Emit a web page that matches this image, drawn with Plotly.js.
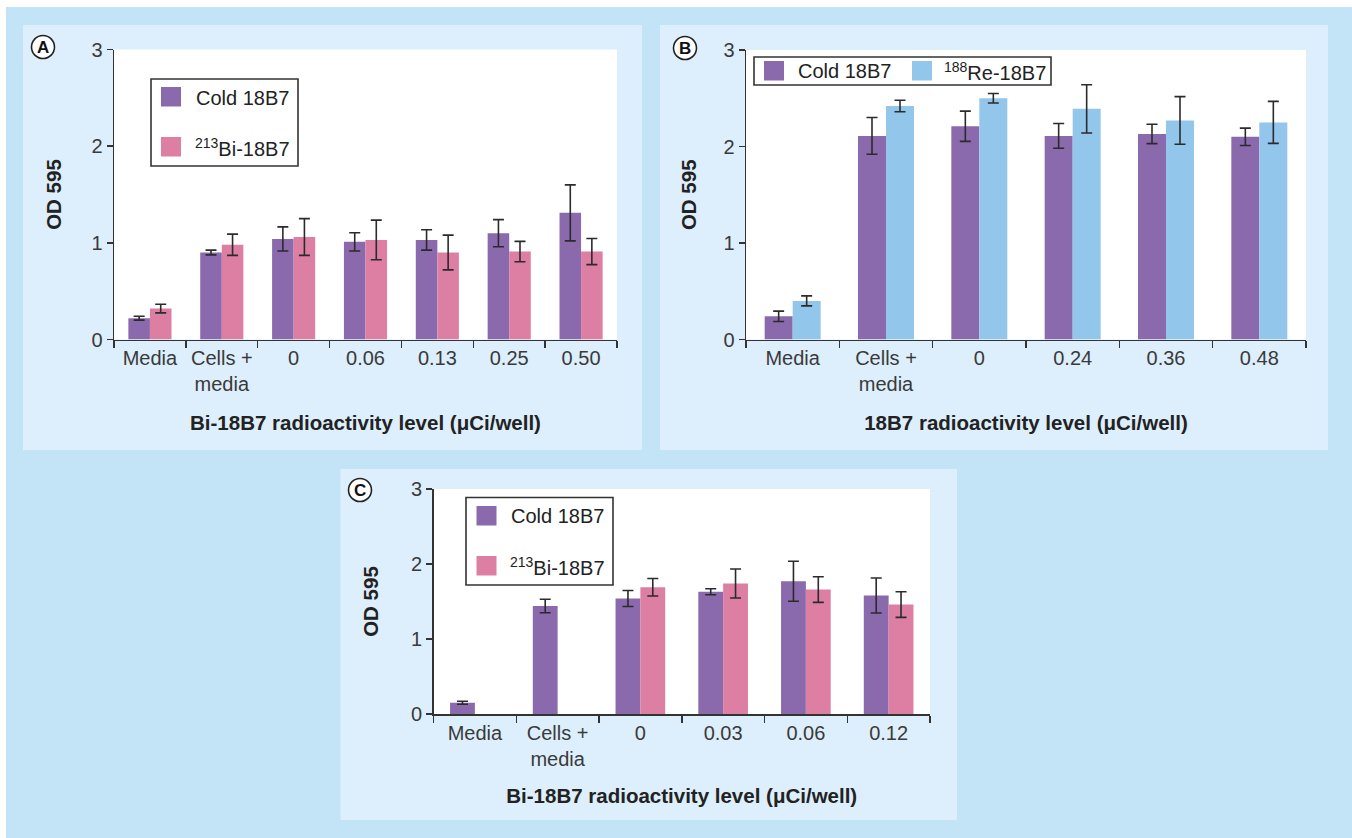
<!DOCTYPE html>
<html>
<head>
<meta charset="utf-8">
<script src="https://cdn.plot.ly/plotly-3.0.1.min.js"></script>
<style>html,body{margin:0;padding:0;background:#fff;}#chart{width:1352px;height:838px;}</style>
</head>
<body>
<div id="chart"></div>
<script>
// ---------- DATA ----------
const catsA = ['Media', 'Cells +<br>media', '0', '0.06', '0.13', '0.25', '0.50'];
const coldA = [0.22, 0.90, 1.04, 1.01, 1.03, 1.10, 1.31];
const coldAErr = [0.02, 0.025, 0.125, 0.095, 0.105, 0.14, 0.29];
const biA = [0.32, 0.98, 1.06, 1.03, 0.90, 0.91, 0.91];
const biAErr = [0.045, 0.11, 0.19, 0.205, 0.18, 0.105, 0.135];

const catsB = ['Media', 'Cells +<br>media', '0', '0.24', '0.36', '0.48'];
const coldB = [0.24, 2.11, 2.21, 2.11, 2.13, 2.10];
const coldBErr = [0.054, 0.19, 0.157, 0.128, 0.10, 0.09];
const reB = [0.40, 2.42, 2.50, 2.39, 2.27, 2.25];
const reBErr = [0.052, 0.06, 0.05, 0.25, 0.247, 0.218];

const catsC = ['Media', 'Cells +<br>media', '0', '0.03', '0.06', '0.12'];
const coldC = [0.15, 1.44, 1.54, 1.63, 1.77, 1.58];
const coldCErr = [0.02, 0.09, 0.107, 0.04, 0.267, 0.234];
const biC = [null, null, 1.69, 1.74, 1.66, 1.46];
const biCErr = [null, null, 0.116, 0.194, 0.171, 0.171];

const seriesCold = 'Cold 18B7';
const seriesBi = '<sup>213</sup>Bi-18B7';
const seriesRe = '<sup>188</sup>Re-18B7';
const xTitleBi = 'Bi-18B7 radioactivity level (μCi/well)';
const xTitleRe = '18B7 radioactivity level (μCi/well)';
const yTitle = 'OD 595';
const panelLetters = ['A', 'B', 'C'];

// ---------- STYLE ----------
const W = 1352, H = 838;
const PURPLE = '#8b69ad', PINK = '#dc7fa3', LBLUE = '#93c6eb';
const OUTER = '#c3e4f7', PANEL = '#ddeffc';
const AX = '#333333';
const FONT = '"Liberation Sans", Arial, Helvetica, sans-serif';
const px = x => x / W;
const py = y => 1 - y / H;
const titleFont = {family: FONT, size: 20.5, color: '#222', weight: 'bold'};

function errOpts(arr) {
  return {type: 'data', array: arr, visible: true, color: '#2b2b2b', thickness: 1.6, width: 5.5};
}
function bar(x, y, err, color, xa, ya, name) {
  return {type: 'bar', x: x, y: y, name: name, xaxis: xa, yaxis: ya,
    marker: {color: color, line: {width: 0}}, error_y: errOpts(err),
    showlegend: false, hoverinfo: 'x+y'};
}

const data = [
  bar(catsA, coldA, coldAErr, PURPLE, 'x', 'y', seriesCold),
  bar(catsA, biA, biAErr, PINK, 'x', 'y', seriesBi),
  bar(catsB, coldB, coldBErr, PURPLE, 'x2', 'y2', seriesCold),
  bar(catsB, reB, reBErr, LBLUE, 'x2', 'y2', seriesRe),
  bar(catsC, coldC, coldCErr, PURPLE, 'x3', 'y3', seriesCold),
  bar(catsC, biC, biCErr, PINK, 'x3', 'y3', seriesBi)
];

// plot areas (pixels)
const plots = {
  A: {x0: 114, x1: 617, y0: 49.5, y1: 339.5},
  B: {x0: 746, x1: 1306, y0: 50, y1: 339.5},
  C: {x0: 433.5, x1: 930, y0: 489, y1: 714}
};

function xaxis(p, n, cats, title, standoff) {
  return {domain: [px(p.x0), px(p.x1)], anchor: n, type: 'category',
    range: [-0.5, cats.length - 0.5], showline: true, linecolor: AX, linewidth: 1.5,
    ticks: 'outside', tickson: 'boundaries', ticklen: 7, tickwidth: 1.5, tickcolor: AX,
    showgrid: false, zeroline: false, fixedrange: true, automargin: false,
    tickfont: {family: FONT, size: 20, color: '#3a3a3a'},
    title: {text: title, font: titleFont, standoff: standoff}};
}
function yaxis(p, n, standoff) {
  return {domain: [py(p.y1), py(p.y0)], anchor: n, range: [0, 3],
    tickvals: [0, 1, 2, 3], showline: true, linecolor: AX, linewidth: 1.5,
    ticks: 'outside', ticklen: 6, tickwidth: 1.5, tickcolor: AX,
    showgrid: false, zeroline: false, fixedrange: true, automargin: false,
    tickfont: {family: FONT, size: 20, color: '#3a3a3a'},
    title: {text: yTitle, font: titleFont, standoff: standoff}};
}

const shapes = [];
const annotations = [];
function rect(x0, y0, x1, y1, fill, line) {
  shapes.push({type: 'rect', xref: 'paper', yref: 'paper', layer: 'below',
    x0: px(x0), x1: px(x1), y0: py(y1), y1: py(y0),
    fillcolor: fill, line: line || {width: 0}});
}
function text(x, y, t, opts) {
  annotations.push(Object.assign({xref: 'paper', yref: 'paper', x: px(x), y: py(y),
    text: t, showarrow: false, xanchor: 'center', yanchor: 'middle',
    font: {family: FONT, size: 20, color: '#222'}}, opts || {}));
}

// backgrounds
rect(6, 7, 1352, 838, OUTER);
rect(23, 25, 642, 450, PANEL);
rect(660, 25, 1328, 450, PANEL);
rect(340.5, 469, 957, 820, PANEL);
for (const k of ['A', 'B', 'C']) {
  const p = plots[k];
  rect(p.x0, p.y0, p.x1, p.y1, '#ffffff');
}

// panel letters
function letter(cx, cy, L) {
  shapes.push({type: 'circle', xref: 'paper', yref: 'paper', layer: 'above',
    x0: px(cx - 11.5), x1: px(cx + 11.5), y0: py(cy + 11.5), y1: py(cy - 11.5),
    fillcolor: '#ffffff', line: {color: '#222', width: 1.6}});
  text(cx, cy + 0.5, L, {font: {family: FONT, size: 17, color: '#111', weight: 'bold'}});
}
letter(43, 47, panelLetters[0]);
letter(685, 48, panelLetters[1]);
letter(360, 490, panelLetters[2]);

// legends
const legFont = {family: FONT, size: 20, color: '#222'};
function legendBox(x0, y0, x1, y1) {
  shapes.push({type: 'rect', xref: 'paper', yref: 'paper', layer: 'above',
    x0: px(x0), x1: px(x1), y0: py(y1), y1: py(y0),
    fillcolor: '#ffffff', line: {color: '#333', width: 1.6}});
}
function swatch(x, y, color) {
  shapes.push({type: 'rect', xref: 'paper', yref: 'paper', layer: 'above',
    x0: px(x), x1: px(x + 20), y0: py(y + 19.5), y1: py(y),
    fillcolor: color, line: {width: 0}});
}
// A
legendBox(151, 79, 298, 166);
swatch(161, 87, PURPLE); text(194, 97.5, seriesCold, {xanchor: 'left', font: legFont});
swatch(161, 137, PINK); text(193, 147, seriesBi, {xanchor: 'left', font: legFont});
// B
legendBox(754, 57, 1051, 85);
swatch(764, 61, PURPLE); text(796, 71, seriesCold, {xanchor: 'left', font: legFont});
swatch(912, 61, LBLUE); text(942, 71, seriesRe, {xanchor: 'left', font: legFont});
// C
legendBox(466, 497.5, 613, 585);
swatch(476.5, 506, PURPLE); text(509, 516, seriesCold, {xanchor: 'left', font: legFont});
swatch(476.5, 556, PINK); text(508, 566, seriesBi, {xanchor: 'left', font: legFont});

const layout = {
  width: W, height: H, margin: {l: 0, r: 0, t: 0, b: 0},
  paper_bgcolor: '#ffffff', plot_bgcolor: 'rgba(0,0,0,0)',
  barmode: 'group', bargap: 0.4, bargroupgap: 0,
  showlegend: false,
  font: {family: FONT, size: 20, color: '#333'},
  xaxis: xaxis(plots.A, 'y', catsA, xTitleBi, 21), yaxis: yaxis(plots.A, 'x', 24),
  xaxis2: xaxis(plots.B, 'y2', catsB, xTitleRe, 21), yaxis2: yaxis(plots.B, 'x2', 21),
  xaxis3: xaxis(plots.C, 'y3', catsC, xTitleBi, 20), yaxis3: yaxis(plots.C, 'x3', 26),
  shapes: shapes, annotations: annotations
};

Plotly.newPlot('chart', data, layout, {displayModeBar: false, staticPlot: true});
</script>
</body>
</html>
